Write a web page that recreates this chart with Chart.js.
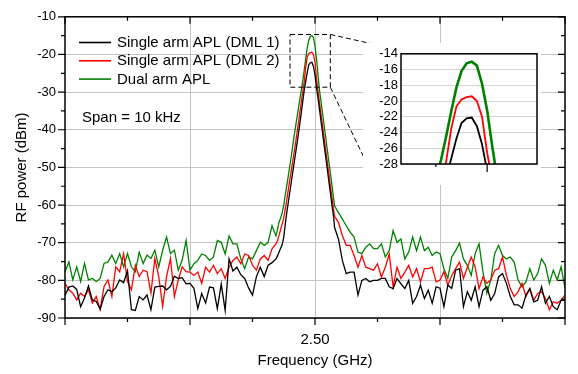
<!DOCTYPE html>
<html><head><meta charset="utf-8">
<script src="https://cdn.jsdelivr.net/npm/chart.js@4.4.0/dist/chart.umd.min.js"></script>
<style>
html,body{margin:0;padding:0;background:#fff;}
#wrap{position:relative;width:578px;height:374px;overflow:hidden;}
#main{position:absolute;left:0;top:0;}
#inset{position:absolute;left:363px;top:43px;background:#fff;}
</style></head><body>
<div id="wrap"><canvas id="main" width="578" height="374"></canvas><canvas id="inset" width="178" height="142"></canvas></div>
<script>
// frequency offset samples (arbitrary units, 0 = 2.50 GHz centre)
const freqLeft = [-4,-3.9375,-3.875,-3.8125,-3.75,-3.6875,-3.625,-3.5625,-3.5,-3.4375,-3.375,-3.3125,-3.25,-3.1875,-3.125,-3.0625,-3,-2.9375,-2.875,-2.8125,-2.75,-2.6875,-2.625,-2.5625,-2.5,-2.4375,-2.375,-2.3125,-2.25,-2.1875,-2.125,-2.0625,-2,-1.9375,-1.875,-1.8125,-1.75,-1.6875,-1.625,-1.5625,-1.5,-1.4375,-1.375,-1.3125,-1.25,-1.1875,-1.125,-1.0625,-1,-0.9375,-0.875,-0.8125,-0.75,-0.6875,-0.625];
const freqMid = [-0.6,-0.575,-0.55,-0.525,-0.5,-0.475,-0.45,-0.425,-0.4,-0.375,-0.35,-0.325,-0.3,-0.275,-0.25,-0.225,-0.2,-0.175,-0.15,-0.125,-0.1,-0.075,-0.05,-0.025,0,0.025,0.05,0.075,0.1,0.125,0.15,0.175,0.2,0.225,0.25,0.275,0.3];
const freqRight = [0.3125,0.375,0.4375,0.5,0.5625,0.625,0.6875,0.75,0.8125,0.875,0.9375,1,1.0625,1.125,1.1875,1.25,1.3125,1.375,1.4375,1.5,1.5625,1.625,1.6875,1.75,1.8125,1.875,1.9375,2,2.0625,2.125,2.1875,2.25,2.3125,2.375,2.4375,2.5,2.5625,2.625,2.6875,2.75,2.8125,2.875,2.9375,3,3.0625,3.125,3.1875,3.25,3.3125,3.375,3.4375,3.5,3.5625,3.625,3.6875,3.75,3.8125,3.875,3.9375,4];

const seriesLabels = ['Single arm APL (DML 1)','Single arm APL (DML 2)','Dual arm APL'];

const dml1 = [
 -84,-81.8,-81.5,-82.4,-87,-84.7,-81.5,-85.2,-85.6,-87.6,-84.3,-82.5,-83,-82,-79.9,-80.6,-77.5,-87.8,-88,-84.3,-85.2,-83.9,-87.8,-81.8,-81.6,-81.5,-82.5,-81.6,-78.9,-79.5,-79.3,-80.9,
 -80.8,-82.1,-87.5,-83.5,-86,-81.8,-82,-87.5,-81,-88,-74.3,-77.5,-76.5,-78.5,-79.5,-82,-83.9,-79,-76.5,-79,-76,-75.3,-74.3,
 -73.5,-72.5,-71.5,-70.5,-68.5,-65,-61.8,-59,-56.2,-53.4,-50.6,-47.8,-45,-42.2,-39.3,-36.2,-33,-29.8,-27.3,-24.8,-22.8,-22.2,-22.1,-23.2,-25.5,-28.9,-31.9,-35,-38.2,-41.4,-44.6,-47.7,-50.9,-54.1,-57.3,-60.5,-63.5,
 -65.9,-69,-74.7,-78.2,-77.8,-77.8,-83.9,-80,-79.5,-80.4,-80,-80,-79.5,-79.5,-81.7,-82.2,-79.5,-80.9,-82.2,-80,-86.1,-84.3,-81.3,-84.8,-82.6,-86.1,-81.7,
 -82.1,-87,-81.3,-82.1,-77.3,-76.9,-87,-83,-85.3,-81.7,-87,-82.6,-81.7,-85.3,-83.5,-79.1,-78.2,-80.8,-84.3,-86.5,-86.5,-87.4,-83.9,-82.2,-85.7,-85.3,-81.7,-86.1,-84.3,-87,-87.8,-85.3,-85.3
];
const dml2 = [
 -80.8,-82.5,-83.4,-85.2,-83.4,-84.3,-82.5,-86,-84.3,-87.8,-81.6,-79.9,-84.3,-76.4,-77.7,-72.9,-80.3,-82.5,-76,-79,-77.3,-77.7,-83.4,-74.2,-79,-86.9,-79,-74.2,-84.3,-79.9,-76.4,-77.7,
 -77.8,-78.7,-77.8,-80.8,-76.5,-77.8,-76,-78.2,-76.9,-79.5,-76.5,-74.7,-73.8,-75.6,-73,-73.4,-76,-77.3,-74.3,-73.4,-74.7,-71.6,-70.3,
 -69.5,-68,-66.5,-65,-63.5,-61,-58.4,-55.7,-53,-50.4,-47.7,-45,-42.2,-39.3,-36.3,-33.3,-30.3,-27.7,-23.5,-20.7,-19.8,-19.5,-19.4,-20,-22,-26.6,-30,-33.2,-36.4,-39.5,-42.7,-45.8,-49,-52.2,-55.3,-58.5,-61.5,
 -63,-64.6,-68.1,-70.7,-70.7,-73.4,-76.5,-73.4,-76.5,-76.9,-77.3,-75.6,-79.1,-76.5,-73,-81.7,-76.5,-79.5,-77.8,-76,-79.1,-76.9,-80.4,-76.9,-76.9,-76.5,-80.4,
 -79.9,-77.7,-81.3,-78.7,-76.9,-75.2,-79.5,-76.5,-73.8,-76.5,-82.2,-79.1,-80.8,-79.9,-77.3,-76.9,-73.8,-78.7,-82.2,-84.3,-83,-80.8,-84.3,-82.2,-85.3,-83.5,-83,-84.8,-87.8,-85.7,-86.1,-85.3,-83.9
];
const dual = [
 -77.7,-75.1,-79.9,-76.4,-80.3,-75.5,-79.9,-79.5,-80.3,-79.5,-75.5,-75.1,-73.3,-75.5,-72.9,-76.4,-72.9,-76.4,-77.7,-72.5,-75.5,-73.3,-74.2,-72,-76.4,-72,-68.5,-72.9,-72,-77.3,-74.6,-69.4,
 -77.3,-75.6,-74.7,-73,-73.4,-74.7,-73.8,-69.4,-69.9,-73,-68.2,-70.3,-70.3,-74.3,-76.9,-73.8,-74.3,-72.1,-69.9,-70.7,-69.9,-65.5,-68.2,
 -66.5,-64.5,-63.5,-62,-60,-57.2,-54.7,-52,-49.3,-46.5,-43.5,-40.7,-38,-35.4,-32.7,-30.1,-27.5,-24.5,-21.3,-18.3,-16.2,-15.2,-15,-15.5,-17.8,-21.2,-25.8,-29.9,-33,-36.2,-39.4,-42.5,-45.7,-48.9,-52,-55.3,-58.5,
 -60.2,-62,-63.7,-65.5,-67.2,-68.5,-72.5,-72.9,-71.2,-70.3,-71.6,-71.6,-70.3,-73.8,-72.1,-66.8,-69.9,-69,-74.3,-72.5,-68.5,-72.1,-68.5,-72.1,-71.2,-73.4,-72.5,
 -72.9,-76.9,-79.5,-73.8,-72.1,-70.1,-74.3,-76,-78.7,-72.9,-70.3,-77.8,-83.4,-79.9,-72.9,-70.7,-73.4,-74.3,-73.8,-75.2,-79.9,-81.7,-80.4,-76.9,-79.9,-78.2,-74.3,-76,-80.8,-77.3,-79.9,-76.4,-82.1
];

const xTickLabels = {0: '2.50'};
const yTicks = [-90,-80,-70,-60,-50,-40,-30,-20,-10];
const insetYTicks = [-28,-26,-24,-22,-20,-18,-16,-14];

const freqs = [...freqLeft, ...freqMid, ...freqRight];
const toXY = arr => arr.map((v, i) => ({x: freqs[i], y: v}));
const colors = ['#000000', '#ff0000', '#008000'];
const allSeries = [dml1, dml2, dual];
const FONT = '"Liberation Sans", Arial, sans-serif';

function makeDatasets(widths) {
  return allSeries.map((s, i) => ({
    label: seriesLabels[i], data: toXY(s), borderColor: colors[i], backgroundColor: colors[i],
    borderWidth: widths[i], pointRadius: 0, tension: 0, fill: false
  }));
}

const mainDeco = {
  id: 'mainDeco',
  afterDatasetsDraw(chart) {
    const {ctx, chartArea: a, scales: {x, y}} = chart;
    ctx.save();
    ctx.strokeStyle = '#000'; ctx.lineWidth = 1; ctx.setLineDash([5, 3]);
    const bx1 = x.getPixelForValue(-0.40), bx2 = x.getPixelForValue(0.245);
    const by1 = y.getPixelForValue(-14.7), by2 = y.getPixelForValue(-28.7);
    ctx.strokeRect(bx1, by1, bx2 - bx1, by2 - by1);
    ctx.beginPath(); ctx.moveTo(bx2, by1); ctx.lineTo(373, 44); ctx.stroke();
    ctx.beginPath(); ctx.moveTo(bx2, by2); ctx.lineTo(367, 164); ctx.stroke();
    ctx.setLineDash([]);
    ctx.lineWidth = 1.5;
    ctx.strokeRect(a.left, a.top, a.right - a.left, a.bottom - a.top);
    ctx.lineWidth = 1.2;
    ctx.beginPath();
    for (let v = -4; v <= 4; v += 1) {
      const px = x.getPixelForValue(v), major = (v % 2 === 0), L = major ? 7 : 4;
      ctx.moveTo(px, a.bottom); ctx.lineTo(px, a.bottom + L);
      ctx.moveTo(px, a.top); ctx.lineTo(px, a.top + L);
    }
    for (let v = -90; v <= -10; v += 5) {
      const py = y.getPixelForValue(v), major = (v % 10 === 0), L = major ? 7 : 4;
      ctx.moveTo(a.left, py); ctx.lineTo(a.left - L, py);
      ctx.moveTo(a.right, py); ctx.lineTo(a.right - L, py);
    }
    ctx.stroke();
    ctx.font = '15px ' + FONT; ctx.textBaseline = 'middle'; ctx.textAlign = 'left';
    chart.data.datasets.forEach((ds, i) => {
      const ly = 42.5 + i * 18.3;
      ctx.strokeStyle = ds.borderColor; ctx.lineWidth = 1.6;
      ctx.beginPath(); ctx.moveTo(79, ly); ctx.lineTo(111, ly); ctx.stroke();
      ctx.fillStyle = '#000'; ctx.fillText(ds.label, 117, ly + 0.5);
    });
    ctx.fillText('Span = 10 kHz', 82, 117.5);
    ctx.restore();
  }
};

new Chart(document.getElementById('main'), {
  type: 'line',
  data: {datasets: makeDatasets([1.3, 1.3, 1.3])},
  options: {
    responsive: false, animation: false, devicePixelRatio: 1,
    layout: {padding: {top: 14, right: 6, left: 0, bottom: 0}},
    plugins: {legend: {display: false}, tooltip: {enabled: false}},
    scales: {
      x: {
        type: 'linear', min: -4, max: 4,
        afterBuildTicks: s => { s.ticks = [-4, -2, 0, 2, 4].map(v => ({value: v})); },
        afterFit: s => { s.height = 56; },
        ticks: {callback: v => xTickLabels[v] || '', autoSkip: false, maxRotation: 0, padding: 13, color: '#000', font: {family: FONT, size: 15}},
        grid: {color: c => (c.tick && Math.abs(c.tick.value) < 3) ? '#c4c4c4' : 'rgba(0,0,0,0)', drawTicks: false, lineWidth: 1},
        border: {display: false},
        title: {display: true, text: 'Frequency (GHz)', color: '#000', font: {family: FONT, size: 15}, padding: {top: 2, bottom: 4}}
      },
      y: {
        type: 'linear', min: -90, max: -10,
        afterBuildTicks: s => { s.ticks = yTicks.map(v => ({value: v})); },
        afterFit: s => { s.width = 65; },
        ticks: {padding: 9, color: '#000', font: {family: FONT, size: 13}, autoSkip: false},
        grid: {color: '#c4c4c4', drawTicks: false, lineWidth: 1},
        border: {display: false},
        title: {display: true, text: 'RF power (dBm)', color: '#000', font: {family: FONT, size: 15}, padding: {top: 13, bottom: 2}}
      }
    }
  },
  plugins: [mainDeco]
});

const insetDeco = {
  id: 'insetDeco',
  afterDatasetsDraw(chart) {
    const {ctx, chartArea: a, scales: {x}} = chart;
    ctx.save();
    ctx.strokeStyle = '#000'; ctx.lineWidth = 1.5;
    ctx.strokeRect(a.left, a.top, a.right - a.left, a.bottom - a.top);
    ctx.lineWidth = 1.2; ctx.beginPath();
    const t1 = x.getPixelForValue(-0.225), t2 = x.getPixelForValue(0.025);
    ctx.moveTo(t1, a.bottom); ctx.lineTo(t1, a.bottom + 3);
    ctx.moveTo(t2, a.bottom); ctx.lineTo(t2, a.bottom + 8);
    ctx.stroke();
    ctx.restore();
  }
};

new Chart(document.getElementById('inset'), {
  type: 'line',
  data: {datasets: makeDatasets([1.8, 1.8, 2.6])},
  options: {
    responsive: false, animation: false, devicePixelRatio: 1,
    layout: {padding: {top: 8, right: 4, left: 0, bottom: 0}},
    plugins: {legend: {display: false}, tooltip: {enabled: false}},
    scales: {
      x: {type: 'linear', min: -0.395, max: 0.268, ticks: {display: false}, grid: {display: false}, border: {display: false}, afterFit: s => { s.height = 21; }},
      y: {
        type: 'linear', min: -28, max: -14,
        afterBuildTicks: s => { s.ticks = insetYTicks.map(v => ({value: v})); },
        afterFit: s => { s.width = 38; },
        ticks: {padding: 3, color: '#000', font: {family: FONT, size: 13}, autoSkip: false},
        grid: {color: '#d4d4d4', drawTicks: false, lineWidth: 1},
        border: {display: false}
      }
    }
  },
  plugins: [insetDeco]
});
</script>
</body></html>
